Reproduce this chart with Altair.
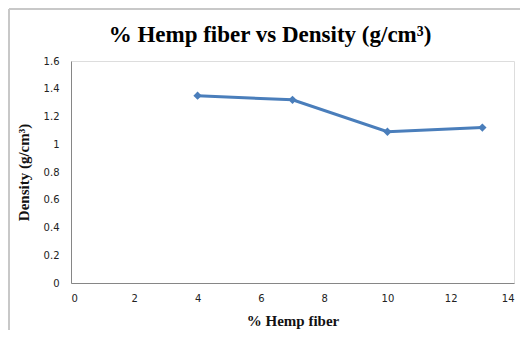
import altair as alt
import pandas as pd

hemp = [4, 7, 10, 13]
density = [1.35, 1.32, 1.09, 1.12]

df = pd.DataFrame({"hemp": hemp, "density": density})

W, H = 443, 222
PL, PT = 63, 53

x = alt.X("hemp:Q", scale=alt.Scale(domain=[0, 14]),
          axis=alt.Axis(values=list(range(0, 15, 2)), title="% Hemp fiber", grid=False, ticks=False,
                        domainColor="#868686", labelFont="DejaVu Sans", labelFontSize=10,
                        labelColor="#222222", labelPadding=10,
                        titleFont="Liberation Serif", titleFontSize=15, titleFontWeight="bold",
                        titleColor="#111111", titlePadding=10))
y = alt.Y("density:Q", scale=alt.Scale(domain=[0, 1.6]),
          axis=alt.Axis(values=[0, 0.2, 0.4, 0.6, 0.8, 1, 1.2, 1.4, 1.6], title="Density (g/cm³)",
                        format=".1~f",
                        grid=False, ticks=False, domainColor="#868686", labelFont="DejaVu Sans",
                        labelFontSize=10, labelColor="#222222", labelPadding=12,
                        titleFont="Liberation Serif", titleFontSize=15, titleFontWeight="bold",
                        titleColor="#111111", titlePadding=12))

line = alt.Chart(df).mark_line(color="#4A7EBB", strokeWidth=3,
                                point=alt.OverlayMarkDef(shape="diamond", size=70, color="#4A7EBB",
                                                         filled=True, opacity=1)).encode(x=x, y=y)

title = alt.Chart(pd.DataFrame({"t": ["% Hemp fiber vs Density (g/cm³)"]})).mark_text(
    font="Liberation Serif", fontSize=23, fontWeight="bold", color="#000000", align="center",
    baseline="alphabetic").encode(text="t:N", x=alt.value(270 - 71), y=alt.value(42 - 61))

frame_left = alt.Chart(pd.DataFrame({"a": [0]})).mark_rule(color="#c8c8c8", strokeWidth=2).encode(
    x=alt.value(-PL + 1), y=alt.value(-PT + 1), y2=alt.value(H + 60))
frame_top = alt.Chart(pd.DataFrame({"a": [0]})).mark_rule(color="#c8c8c8", strokeWidth=2).encode(
    x=alt.value(-PL + 1), x2=alt.value(W + 20), y=alt.value(-PT + 1))

chart = alt.layer(frame_left, frame_top, line, title).properties(
    width=W, height=H,
    autosize=alt.AutoSizeParams(type="none"),
    padding={"left": PL, "top": PT, "right": 6, "bottom": 47},
).configure_view(stroke=None).configure(background="white")

chart.save("out.html", embed_options={"renderer": "svg", "actions": False})
